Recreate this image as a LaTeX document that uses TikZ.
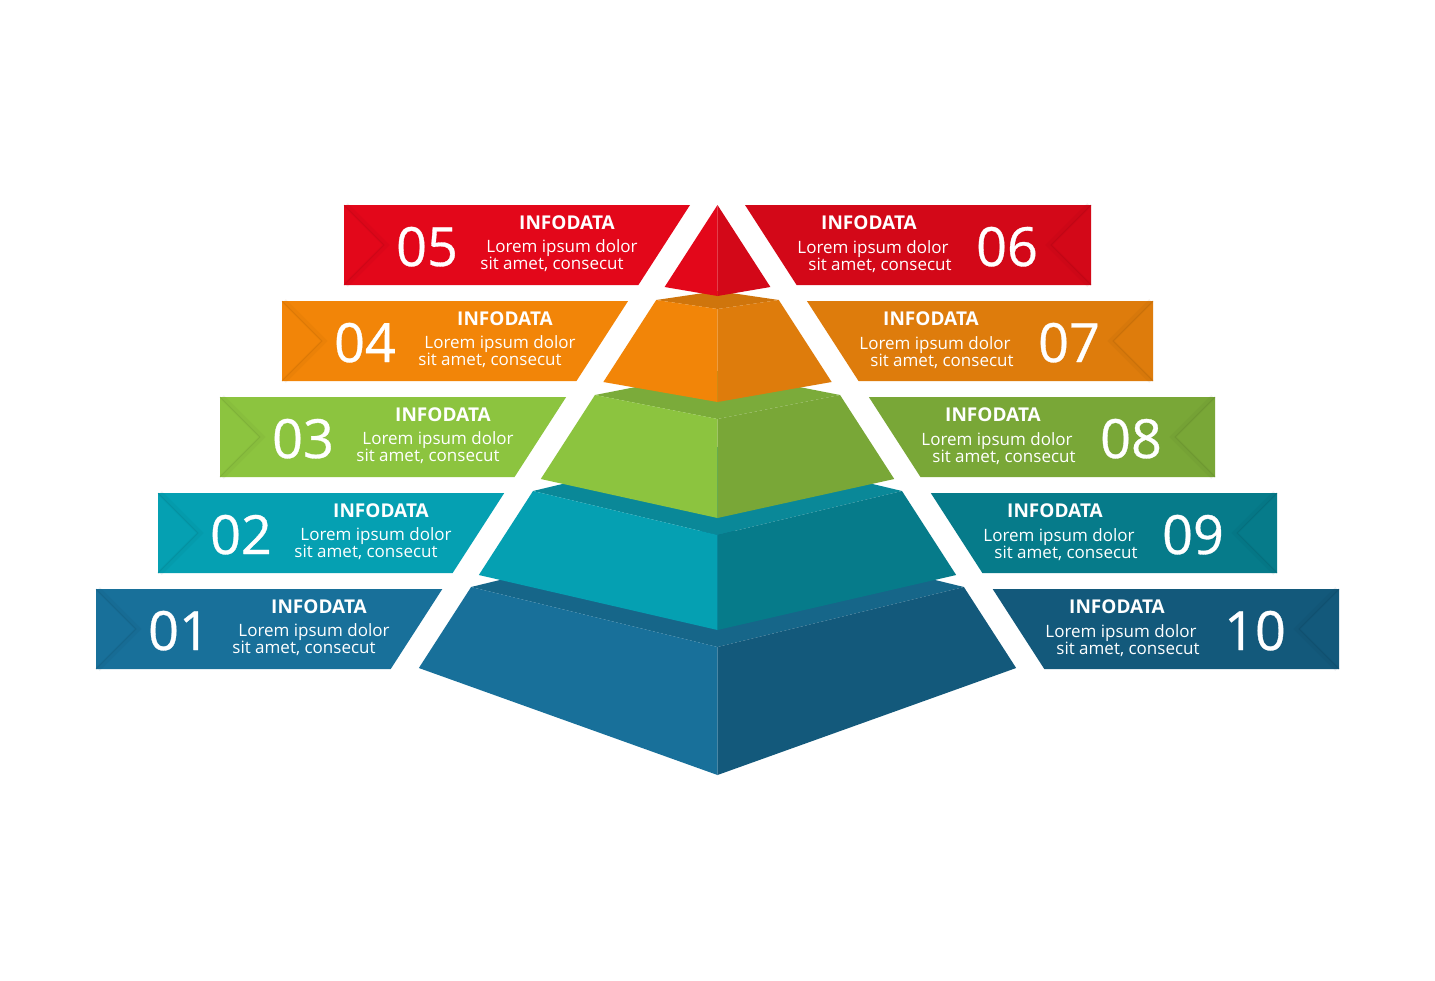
\documentclass[tikz,border=0pt]{standalone}
\usepackage{fontspec}
\setmainfont{Open Sans}
\newfontfamily\numfont{Open Sans}[FakeBold=0.6]
\definecolor{redL}{HTML}{E3071A}
\definecolor{redR}{HTML}{D30818}
\definecolor{orangeL}{HTML}{F28508}
\definecolor{orangeR}{HTML}{DE7C0C}
\definecolor{orangeT}{HTML}{CF750C}
\definecolor{greenL}{HTML}{8CC43F}
\definecolor{greenR}{HTML}{79A737}
\definecolor{greenT}{HTML}{7BAB3A}
\definecolor{tealL}{HTML}{05A0B2}
\definecolor{tealR}{HTML}{067B8A}
\definecolor{tealT}{HTML}{0A8898}
\definecolor{blueL}{HTML}{18709A}
\definecolor{blueR}{HTML}{13597B}
\definecolor{blueT}{HTML}{166689}
\tikzset{
  numtxt/.style={anchor=base,text=white,inner sep=0pt,font=\numfont\fontsize{54}{54}\selectfont},
  headtxt/.style={anchor=base,text=white,inner sep=0pt,font=\bfseries\fontsize{19}{19}\selectfont},
  bodytxt/.style={anchor=base,text=white,inner sep=0pt,font=\fontsize{17}{17}\selectfont},
  crease/.style={line join=miter,opacity=.07,line width=5pt},
}
\begin{document}
\begin{tikzpicture}[x=1pt,y=-1pt]
  \useasboundingbox[fill=white] (0,0) rectangle (1435,980);
  % ribbons, left and right
  \foreach \nl/\nr/\yt/\xl/\cL/\cR [evaluate=\xl as \xr using 1435-\xl] in
    {05/06/205/344/redL/redR, 04/07/301/282/orangeL/orangeR, 03/08/397/220/greenL/greenR,
     02/09/493/158/tealL/tealR, 01/10/589/96/blueL/blueR} {%
    \fill[\cL] (\xl,\yt) -- ({690-0.645*(\yt-205)},\yt) -- ({690-0.645*(\yt+80-205)},\yt+80) -- (\xl,\yt+80) -- cycle;
    \draw[crease,\cL!60!black] (\xl+2,\yt) -- (\xl+42,\yt+40) -- (\xl+2,\yt+80);
    \draw[\cL!80!black,opacity=.35,line width=1pt] (\xl,\yt) -- (\xl+40,\yt+40) -- (\xl,\yt+80);
    \node[numtxt] (num\nl) at (\xl+83,\yt+61) {\nl};
    \node[headtxt] (head\nl) at (\xl+223,\yt+24) {INFODATA};
    \node[bodytxt] (lorem\nl) at (\xl+218,\yt+47.5) {Lorem ipsum dolor};
    \node[bodytxt] (sit\nl) at (\xl+208,\yt+64.5) {sit amet, consecut};
    \fill[\cR] (\xr,\yt) -- ({745+0.645*(\yt-205)},\yt) -- ({745+0.645*(\yt+80-205)},\yt+80) -- (\xr,\yt+80) -- cycle;
    \draw[crease,\cR!60!black] (\xr-2,\yt) -- (\xr-42,\yt+40) -- (\xr-2,\yt+80);
    \draw[\cR!80!black,opacity=.35,line width=1pt] (\xr,\yt) -- (\xr-40,\yt+40) -- (\xr,\yt+80);
    \node[numtxt] (num\nr) at (\xr-84,\yt+61) {\nr};
    \node[headtxt] (head\nr) at (\xr-222,\yt+24) {INFODATA};
    \node[bodytxt] (lorem\nr) at (\xr-218,\yt+48) {Lorem ipsum dolor};
    \node[bodytxt] (sit\nr) at (\xr-211,\yt+65) {sit amet, consecut};
  }
  % pyramid layers, bottom first
  \foreach \yt/\ft/\yb/\fb/\lay in
    {587/647/668/775/blue, 491/535/575/630/teal, 395/419/479/518/green, 300/309/382/402/orange} {%
    \fill[\lay T] ({717.5-0.645*(\yt-205)},\yt) -- (717.5,{2*\yt-\ft}) -- ({717.5+0.645*(\yt-205)},\yt) -- (717.5,\ft) -- cycle;
    \fill[\lay L] ({717.5-0.645*(\yt-205)},\yt) -- (717.5,\ft) -- (717.5,\fb) -- ({717.5-0.645*(\yb-205)},\yb) -- cycle;
    \fill[\lay R] ({717.5+0.645*(\yt-205)},\yt) -- (717.5,\ft) -- (717.5,\fb) -- ({717.5+0.645*(\yb-205)},\yb) -- cycle;
  }
  \fill[redL] (717.5,205) -- ({717.5-0.645*82},287) -- (717.5,296) -- cycle;
  \fill[redR] (717.5,205) -- ({717.5+0.645*82},287) -- (717.5,296) -- cycle;
\end{tikzpicture}
\end{document}
